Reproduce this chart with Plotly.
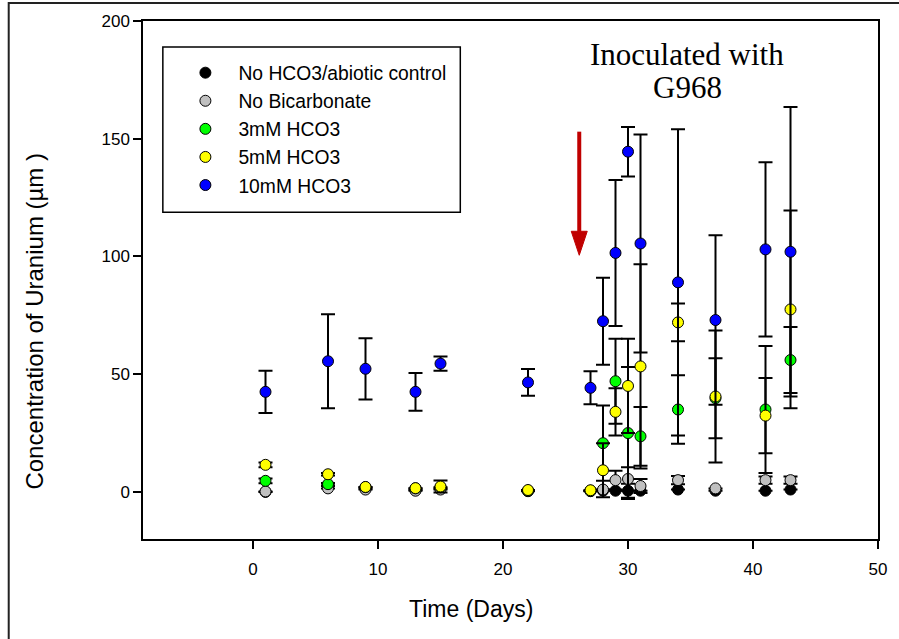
import plotly.graph_objects as go

days = [1, 6, 9, 13, 15, 22, 27, 28, 29, 30, 31, 34, 37, 41, 43]

black_mean = [0.0, 2.5, 1.5, 0.8, 1.5, 0.3, 0.3, 0.5, 0.5, 0.5, 0.5, 1.0, 0.5, 0.5, 1.0]
black_err = [0, 0, 0, 0, 0, 0, 0, 0, 0, 3.0, 0, 0, 0, 0, 0]

gray_mean = [0.2, 1.5, 1.0, 0.5, 1.0, 0.5, 0.5, 1.0, 5.0, 5.5, 2.5, 5.0, 1.5, 5.0, 5.0]
gray_err = [0, 0, 0, 0, 0, 0, 0, 0, 4.0, 5.0, 3.0, 1.8, 0, 1.5, 1.5]

green_mean = [4.7, 3.3, 2.0, 1.5, 2.0, 0.5, 0.5, 20.7, 47.0, 25.0, 23.6, 35.0, 39.8, 35.0, 56.0]
green_err = [1.0, 0.5, 0, 0, 0, 0, 0, 16.0, 18.0, 28.0, 12.5, 14.5, 17.0, 27.0, 14.0]

yellow_mean = [11.5, 7.5, 2.1, 1.6, 2.3, 0.8, 0.7, 9.2, 34.0, 45.0, 53.3, 72.0, 40.5, 32.4, 77.5]
yellow_err = [1.0, 0.5, 0, 0, 2.5, 0, 0, 11.5, 10.0, 20.0, 43.4, 8.0, 28.0, 16.0, 42.0]

blue_mean = [42.5, 55.5, 52.3, 42.5, 54.5, 46.5, 44.2, 72.5, 101.5, 144.5, 105.5, 89.0, 73.0, 103.0, 102.0]
blue_err = [9.0, 20.0, 13.0, 8.0, 3.0, 5.7, 7.0, 18.5, 31.0, 10.5, 46.3, 65.0, 36.0, 37.0, 61.5]

series = [
    ("No HCO3/abiotic control", black_mean, black_err, "#000000"),
    ("No Bicarbonate", gray_mean, gray_err, "#C0C0C0"),
    ("3mM HCO3", green_mean, green_err, "#00FF00"),
    ("5mM HCO3", yellow_mean, yellow_err, "#FFFF00"),
    ("10mM HCO3", blue_mean, blue_err, "#0000FF"),
]

x_range = [-8.8, 50]
y_range = [-20, 200]
x_ticks = [0, 10, 20, 30, 40, 50]
y_ticks = [0, 50, 100, 150, 200]

x_title = "Time (Days)"
y_title = "Concentration of Uranium (\u00b5m )"
note_lines = ["Inoculated with", "G968"]

arrow_day = 26.1
arrow_tail = 153
arrow_head_base = 110.5
arrow_tip = 100.5

fig = go.Figure()
for i, (name, m, e, c) in enumerate(series):
    fig.add_trace(go.Scatter(
        x=days, y=m, mode="markers", name=name, legendgroup=str(i),
        marker=dict(size=11, color=c, line=dict(color="black", width=1)),
        error_y=dict(type="data", array=e, visible=True, color="black",
                     thickness=2, width=7),
    ))

font_sans = "Arial, Liberation Sans, sans-serif"
axis_common = dict(showline=True, linecolor="black", linewidth=1.5, mirror=True,
                   ticks="outside", ticklen=8, tickwidth=1.5, tickcolor="black",
                   showgrid=False, zeroline=False,
                   tickfont=dict(family=font_sans, size=17, color="black"))

fig.update_layout(
    width=899, height=639,
    margin=dict(l=143, r=17, t=21, b=100),
    paper_bgcolor="white", plot_bgcolor="white",
    xaxis=dict(range=x_range, tickvals=x_ticks, ticklabelstandoff=6, **axis_common),
    yaxis=dict(range=y_range, tickvals=y_ticks, **axis_common),
    showlegend=True,
    legend=dict(x=0.040, y=0.937, xanchor="left", yanchor="top",
                bgcolor="rgba(0,0,0,0)", borderwidth=0,
                font=dict(family=font_sans, size=19.3, color="black"),
                tracegroupgap=0, itemwidth=56, traceorder="grouped"),
    shapes=[
        dict(type="rect", xref="paper", yref="paper", x0=0.027, x1=0.4317, y0=0.631, y1=0.950,
             line=dict(color="black", width=1.5), fillcolor="rgba(0,0,0,0)", layer="below"),
        dict(type="rect", xref="paper", yref="paper", x0=-0.1827, x1=1.05, y0=-0.25, y1=1.0347,
             line=dict(color="#222222", width=2), fillcolor="rgba(0,0,0,0)"),
        dict(type="line", xref="x", yref="y", x0=arrow_day, x1=arrow_day, y0=arrow_tail, y1=arrow_head_base,
             line=dict(color="#C00000", width=4)),
        dict(type="path", xref="x", yref="y", xsizemode="pixel", ysizemode="pixel",
             xanchor=arrow_day, yanchor=arrow_tip,
             path="M -8,24 L 8,24 L 0,0 Z", fillcolor="#C00000", line=dict(color="#C00000", width=1)),
    ],
    annotations=[
        dict(x=34.74, y=185.8, xref="x", yref="y", text=note_lines[0], showarrow=False,
             font=dict(family="Liberation Serif, Times New Roman, serif", size=31, color="black"),
             xanchor="center", yanchor="middle"),
        dict(x=34.74, y=171.6, xref="x", yref="y", text=note_lines[1], showarrow=False,
             font=dict(family="Liberation Serif, Times New Roman, serif", size=31, color="black"),
             xanchor="center", yanchor="middle"),
        dict(x=(473 - 143) / 739, y=-(609 - 539) / 518, xref="paper", yref="paper", text=x_title,
             showarrow=False, font=dict(family=font_sans, size=23, color="black"),
             xanchor="center", yanchor="middle"),
        dict(x=-(143 - 33) / 739, y=(539 - 321) / 518, xref="paper", yref="paper", text=y_title,
             showarrow=False, textangle=-90, font=dict(family=font_sans, size=24, color="black"),
             xanchor="center", yanchor="middle"),
    ],
)

fig.write_html("out.html")
